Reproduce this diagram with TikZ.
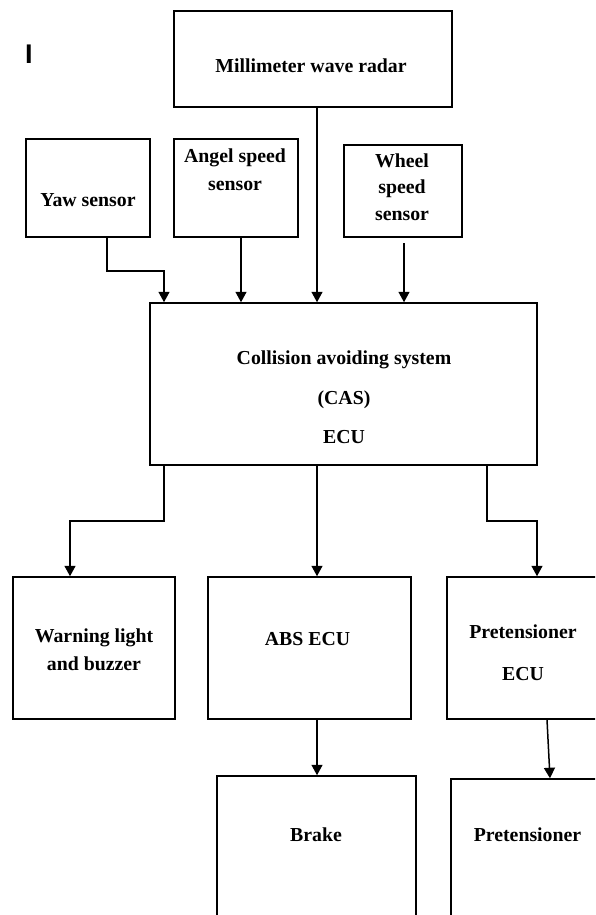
\documentclass[tikz,border=0pt]{standalone}
\usepackage{fontspec}
\setmainfont{Liberation Serif}
\newfontfamily\barfont{Liberation Sans}
\usetikzlibrary{arrows.meta}
\begin{document}
\begin{tikzpicture}[x=1pt,y=-1pt,
  box/.style={draw=black,line width=1.5pt,rectangle,inner sep=0pt},
  lbl/.style={anchor=base,inner sep=0pt,font=\fontsize{19.8}{24}\selectfont\bfseries},
  arr/.style={draw=black,line width=1.5pt,-{Triangle[width=11pt,length=10.5pt]}}]
\path[use as bounding box] (0,0) rectangle (595,915);
\clip (0,0) rectangle (595,915);
% boxes
\node[box,minimum width=278pt,minimum height=96pt] (radar) at (313,59) {};
\node[box,minimum width=124pt,minimum height=98pt] (yaw) at (88,188) {};
\node[box,minimum width=124pt,minimum height=98pt] (angel) at (236,188) {};
\node[box,minimum width=118pt,minimum height=92pt] (wheel) at (403,191) {};
\node[box,minimum width=387pt,minimum height=162pt] (cas) at (343.5,384) {};
\node[box,minimum width=162pt,minimum height=142pt] (warn) at (94,648) {};
\node[box,minimum width=203pt,minimum height=142pt] (abs) at (309.5,648) {};
\node[box,minimum width=153pt,minimum height=142pt] (pecu) at (523.5,648) {};
\node[box,minimum width=199pt,minimum height=184pt] (brake) at (316.5,868) {};
\node[box,minimum width=153pt,minimum height=184pt] (pret) at (527.5,871) {};
% texts
\node[anchor=base,inner sep=0pt,font=\fontsize{27}{27}\selectfont\barfont\bfseries] (mark) at (29,63.5) {I};
\node[lbl] (tradar) at (311,72.5) {Millimeter wave radar};
\node[lbl] (tyaw) at (88,206.5) {Yaw sensor};
\node[lbl] (tang1) at (235,162) {Angel speed};
\node[lbl] (tang2) at (235,190) {sensor};
\node[lbl] (twh1) at (402,167) {Wheel};
\node[lbl] (twh2) at (402,193) {speed};
\node[lbl] (twh3) at (402,220) {sensor};
\node[lbl] (tcas1) at (344,364) {Collision avoiding system};
\node[lbl] (tcas2) at (344,404) {(CAS)};
\node[lbl] (tcas3) at (344,443) {ECU};
\node[lbl] (twarn1) at (94,642) {Warning light};
\node[lbl] (twarn2) at (94,670) {and buzzer};
\node[lbl] (tabs) at (307.5,645) {ABS ECU};
\node[lbl] (tpecu1) at (523,638) {Pretensioner};
\node[lbl] (tpecu2) at (523,680) {ECU};
\node[lbl] (tbrake) at (316,841) {Brake};
\node[lbl] (tpret) at (527.5,841) {Pretensioner};
% connector coordinates
\coordinate (yb1) at (107,271);
\coordinate (yb2) at (164,271);
\coordinate (ax) at (241,0);
\coordinate (rx) at (317,0);
\coordinate (w0) at (404,243);
\coordinate (wb1) at (164,521);
\coordinate (wb2) at (70,521);
\coordinate (pb1) at (487,521);
\coordinate (pb2) at (537,521);
\coordinate (pe0) at (547,0);
\coordinate (pe1) at (550,0);
% connectors
\draw[arr] (yaw.south -| yb1) -- (yb1) -- (yb2) -- (cas.north -| yb2);
\draw[arr] (angel.south -| ax) -- (cas.north -| ax);
\draw[arr] (radar.south -| rx) -- (cas.north -| rx);
\draw[arr] (w0) -- (cas.north -| w0);
\draw[arr] (cas.south -| wb1) -- (wb1) -- (wb2) -- (warn.north -| wb2);
\draw[arr] (cas.south -| rx) -- (abs.north -| rx);
\draw[arr] (cas.south -| pb1) -- (pb1) -- (pb2) -- (pecu.north -| pb2);
\draw[arr] (abs.south -| rx) -- (brake.north -| rx);
\draw[arr] (pecu.south -| pe0) -- (pret.north -| pe1);
\end{tikzpicture}
\end{document}
